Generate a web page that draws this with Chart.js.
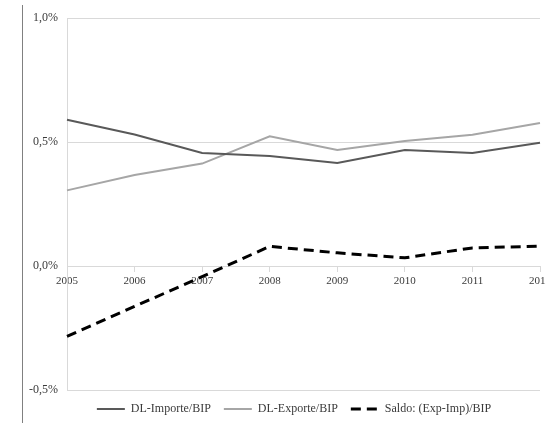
<!DOCTYPE html>
<html>
<head>
<meta charset="utf-8">
<script src="https://cdn.jsdelivr.net/npm/chart.js@4.4.0/dist/chart.umd.min.js"></script>
<style>
    html, body { margin: 0; padding: 0; background: #fff; overflow: hidden; }
    .wrap { position: relative; width: 546px; height: 423px; }
    #myChart { display: block; }
    .frame { position: absolute; left: 22px; top: 5px; width: 1px; height: 418px; background: #808080; }
</style>
</head>
<body>
<div class="wrap">
    <canvas id="myChart" width="546" height="423"></canvas>
    <div class="frame"></div>
</div>
<script>
// values in percent of BIP
const years = ['2005', '2006', '2007', '2008', '2009', '2010', '2011', '2012'];
const importe = [0.590, 0.530, 0.456, 0.444, 0.415, 0.468, 0.456, 0.497];
const exporte = [0.305, 0.367, 0.413, 0.523, 0.468, 0.504, 0.529, 0.577];
const saldo = [-0.284, -0.163, -0.043, 0.079, 0.053, 0.033, 0.073, 0.080];
const yMin = -0.5, yMax = 1.0, yStep = 0.5;

const serif = '"Liberation Serif", "Times New Roman", serif';
const textColor = '#3a3a3a';
const gridColor = '#d9d9d9';

// legend sits a bit right of the plot centre in the original
const shiftLegend = {
    id: 'shiftLegend',
    afterLayout(chart) {
        chart.legend.left += 13;
        chart.legend.right += 13;
    }
};

const ctx = document.getElementById('myChart').getContext('2d');

const data = {
    labels: years,
    datasets: [{
        label: 'DL-Importe/BIP',
        data: importe,
        borderColor: '#595959',
        borderWidth: 2
    }, {
        label: 'DL-Exporte/BIP',
        data: exporte,
        borderColor: '#a6a6a6',
        borderWidth: 2
    }, {
        label: 'Saldo: (Exp-Imp)/BIP',
        data: saldo,
        borderColor: '#000000',
        borderWidth: 3,
        borderDash: [10, 6]
    }]
};

const options = {
    responsive: false,
    animation: false,
    maintainAspectRatio: false,
    layout: { padding: { left: 22, right: 6, top: 18, bottom: -2 } },
    elements: {
        point: { radius: 0 },
        line: { tension: 0, fill: false }
    },
    plugins: {
        tooltip: { enabled: false },
        legend: {
            position: 'bottom',
            labels: {
                font: { family: serif, size: 12 },
                color: textColor,
                usePointStyle: true,
                pointStyle: 'line',
                pointStyleWidth: 28,
                padding: 13,
                generateLabels: (chart) => {
                    const items = Chart.defaults.plugins.legend.labels.generateLabels(chart);
                    items.forEach(it => {
                        const ds = chart.data.datasets[it.datasetIndex];
                        it.lineDash = ds.borderDash || [];
                        it.lineWidth = ds.borderWidth;
                        it.strokeStyle = ds.borderColor;
                    });
                    return items;
                }
            }
        }
    },
    scales: {
        x: {
            type: 'category',
            position: { y: 0 },
            offset: false,
            grid: { drawOnChartArea: false, drawTicks: true, tickLength: 5, color: gridColor },
            border: { color: gridColor },
            ticks: { font: { family: serif, size: 11 }, color: textColor, padding: 4, maxRotation: 0, autoSkip: false },
            // last label may run off the edge, like in the original
            afterFit: (scale) => { scale.paddingLeft = 0; scale.paddingRight = 0; }
        },
        y: {
            min: yMin,
            max: yMax,
            grid: { color: gridColor, drawTicks: false },
            border: { color: gridColor },
            ticks: {
                stepSize: yStep,
                font: { family: serif, size: 12 },
                color: textColor,
                padding: 9,
                callback: (v) => v.toFixed(1).replace('.', ',') + '%'
            },
            afterFit: (scale) => { scale.width = 45; }
        }
    }
};

const myChart = new Chart(ctx, {
    type: 'line',
    data: data,
    options: options,
    plugins: [shiftLegend]
});
</script>
</body>
</html>
